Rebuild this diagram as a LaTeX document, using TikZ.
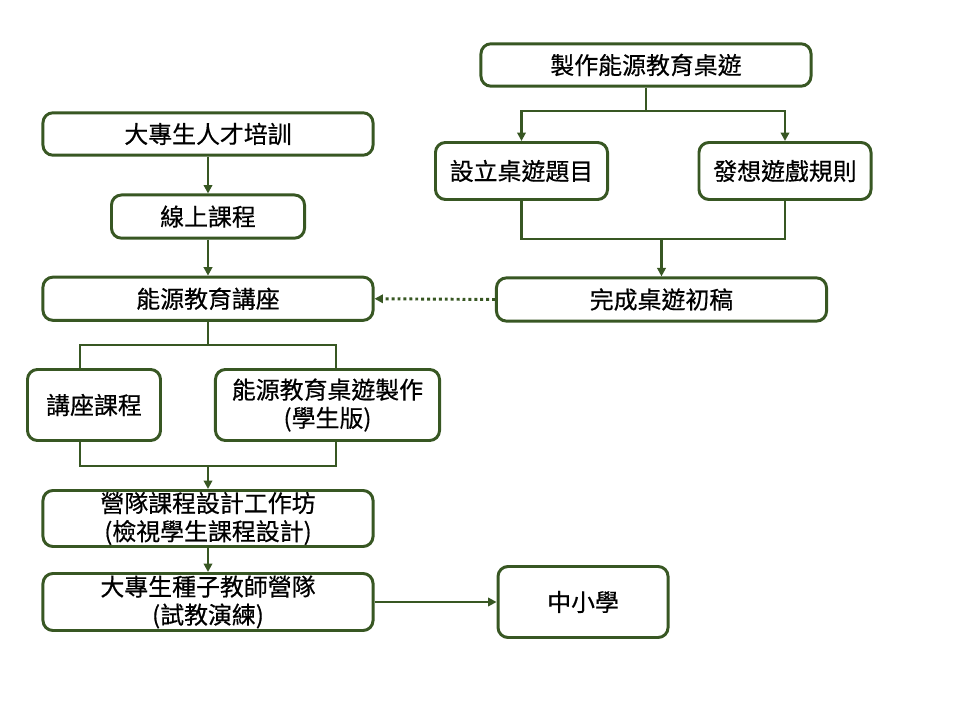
\documentclass[tikz,border=0pt]{standalone}
\usepackage{fontspec}
\usepackage{xcolor}
\usepackage{tikz}
\usetikzlibrary{positioning}
\usetikzlibrary{arrows.meta}
\newfontfamily\cjk[FakeBold=0.5]{Noto Sans CJK TC}
\definecolor{boxgreen}{RGB}{56,87,35}
\tikzset{
	box/.style={
		draw=boxgreen,
		line width=2.1pt,
		rounded corners=0.25cm,
		fill=white,
		align=center,
		inner sep=1pt,
		font=\cjk\fontsize{17}{20}\selectfont},
	wide/.style={box, minimum width=8.25cm, minimum height=1.06cm},
	line/.style={draw=boxgreen, line width=2.1pt},
	arr/.style={line, -{Triangle[length=6pt,width=6pt]}},
	dots/.style={arr, dash pattern=on 2.1pt off 2.1pt}
}
\begin{document}
\begin{tikzpicture}[x=0.025cm, y=-0.025cm]
				\useasboundingbox (0,0) rectangle (960,720);
				% left column
				\node[wide] (train) at (208,134) {大專生人才培訓};
				\node[box, minimum width=4.825cm, minimum height=1.08cm, below=0.92cm of train] (online) {線上課程};
				\node[wide, minimum height=1.08cm, below=0.9cm of online] (lecture) {能源教育講座};
				\node[box, minimum width=3.325cm, minimum height=1.775cm] (course) at (94,405) {講座課程};
				\node[box, minimum width=5.6cm, minimum height=1.775cm] (game) at (327.5,405) {能源教育桌遊製作\\(學生版)};
				\node[wide, minimum height=1.4cm] (workshop) at (208,518.5) {營隊課程設計工作坊\\(檢視學生課程設計)};
				\node[wide, minimum height=1.425cm] (camp) at (208,602) {大專生種子教師營隊\\(試教演練)};
				\node[box, minimum width=4.25cm, minimum height=1.775cm, right=3.05cm of camp] (school) {中小學};
				% right column
				\node[wide] (make) at (646,65) {製作能源教育桌遊};
				\node[box, minimum width=4.3cm, minimum height=1.425cm] (topic) at (521.5,171) {設立桌遊題目};
				\node[box, minimum width=4.3cm, minimum height=1.425cm] (rules) at (785,171) {發想遊戲規則};
				\node[wide, minimum height=1.08cm] (draft) at (661.5,299.5) {完成桌遊初稿};
				% connectors
				\coordinate (fork) at (646,111);
				\coordinate (merge) at (521.5,239);
				\coordinate (sl) at (80,345);
				\coordinate (sr) at (336,345);
				\coordinate (jl) at (80,466);
				\coordinate (jr) at (336,466);
				\draw[line] (make.south) -- (fork);
				\draw[arr] (fork) -| (topic.north);
				\draw[arr] (fork) -| (rules.north);
				\draw[line] (topic.south) -- (merge) -| (rules.south);
				\draw[arr] (merge -| draft.north) -- (draft.north);
				\draw[dots] (draft.west) -- (lecture.east);
				\draw[arr] (train) -- (online);
				\draw[arr] (online) -- (lecture);
				\draw[line] (lecture.south) -- (lecture.south |- sl);
				\draw[line] (sl |- course.north) -- (sl) -- (sr) -- (sr |- game.north);
				\draw[line] (jl |- course.south) -- (jl) -- (jr) -- (jr |- game.south);
				\draw[arr] (jl -| workshop.north) -- (workshop.north);
				\draw[arr] (workshop) -- (camp);
				\draw[arr] (camp.east) -- (school.west);
			\end{tikzpicture}
\end{document}
